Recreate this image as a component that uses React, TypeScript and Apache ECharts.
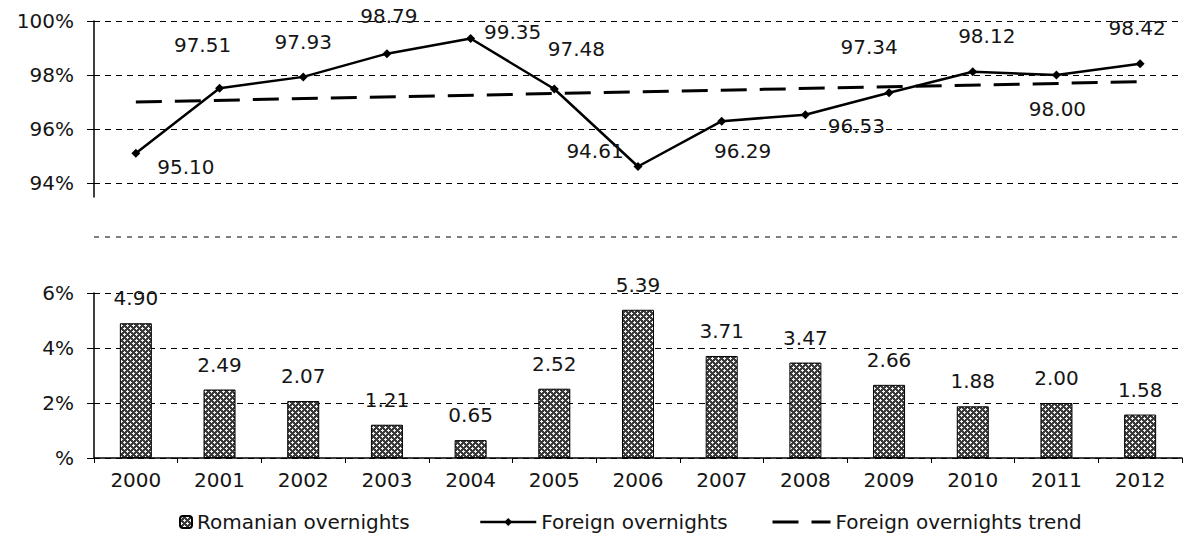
import React, { useEffect, useRef } from "react";
import * as echarts from "echarts";

// Overnight stays in tourist accommodation, share by origin of guests
const years = ["2000", "2001", "2002", "2003", "2004", "2005", "2006", "2007", "2008", "2009", "2010", "2011", "2012"];
const foreignOvernights = [95.1, 97.51, 97.93, 98.79, 99.35, 97.48, 94.61, 96.29, 96.53, 97.34, 98.12, 98.0, 98.42];
const romanianOvernights = [4.9, 2.49, 2.07, 1.21, 0.65, 2.52, 5.39, 3.71, 3.47, 2.66, 1.88, 2.0, 1.58];
// Linear trend of the foreign share, at the first and the last year
const foreignTrendEnds = [97.0, 97.75];
const upperTicks = [94, 96, 98, 100];
const lowerTicks = [0, 2, 4, 6];

// Where each value label of the line sits, relative to its point
const lineLabelOffsets = [
  [50, 14], [-17, -43], [0, -35], [2, -38], [42, -7], [22, -40], [-43, -15],
  [21, 30], [51, 11], [-20, -46], [14, -36], [1, 34], [-3, -36],
];

const FONT = "DejaVu Sans";
const TEXT = "#151515";

// Cross-hatched fill: light plus signs on a dark ground, set on a diagonal
function makeHatch(): HTMLCanvasElement {
  const c = document.createElement("canvas");
  c.width = 6;
  c.height = 6;
  const ctx = c.getContext("2d")!;
  ctx.fillStyle = "#3a3a3a";
  ctx.fillRect(0, 0, 6, 6);
  ctx.fillStyle = "#f2f2f2";
  const plus = (cx: number, cy: number) => {
    ctx.fillRect(cx, cy, 1, 1);
    ctx.fillRect(cx - 1, cy, 1, 1);
    ctx.fillRect(cx + 1, cy, 1, 1);
    ctx.fillRect(cx, cy - 1, 1, 1);
    ctx.fillRect(cx, cy + 1, 1, 1);
  };
  plus(1, 1);
  plus(4, 4);
  return c;
}

export default function App() {
  const ref = useRef<HTMLDivElement>(null);

  useEffect(() => {
    if (!ref.current) return;
    const chart = echarts.init(ref.current, null, { renderer: "svg" });
    const hatch = { image: makeHatch(), repeat: "repeat" } as any;

    const gridLine = { show: true, lineStyle: { color: "#000", type: [6, 5], width: 1 } };
    const axisText = { fontFamily: FONT, fontSize: 20, color: TEXT };

    const option: any = {
      animation: false,
      backgroundColor: "#fff",
      textStyle: { fontFamily: FONT },
      grid: [
        { left: 94, right: 15, top: 21, height: 176 },
        { left: 94, right: 15, top: 293, height: 165 },
      ],
      xAxis: [
        {
          type: "category",
          gridIndex: 0,
          data: years,
          boundaryGap: true,
          axisLine: { show: false },
          axisTick: { show: false },
          axisLabel: { show: false },
          splitLine: { show: false },
        },
        {
          type: "category",
          gridIndex: 1,
          data: years,
          boundaryGap: true,
          axisLine: { show: true, lineStyle: { color: "#000", width: 1.5 } },
          axisTick: { show: true, length: 5, lineStyle: { color: "#000" } },
          axisLabel: { ...axisText, margin: 12 },
          splitLine: { show: false },
        },
      ],
      yAxis: [
        {
          type: "value",
          gridIndex: 0,
          min: 93.48,
          max: 100,
          axisLine: { show: true, lineStyle: { color: "#000", width: 1.5 } },
          axisTick: { show: true, length: 7, customValues: upperTicks, lineStyle: { color: "#000" } },
          axisLabel: { ...axisText, margin: 20, customValues: upperTicks, formatter: (v: number) => `${v}%` },
          splitLine: gridLine,
        },
        {
          type: "value",
          gridIndex: 1,
          min: 0,
          max: 6,
          interval: 2,
          axisLine: { show: true, lineStyle: { color: "#000", width: 1.5 } },
          axisTick: { show: true, length: 7, lineStyle: { color: "#000" } },
          axisLabel: { ...axisText, margin: 20, customValues: lowerTicks, formatter: (v: number) => (v === 0 ? "%" : `${v}%`) },
          splitLine: gridLine,
        },
      ],
      legend: [
        {
          data: ["Romanian overnights"],
          left: 174,
          top: 507,
          itemWidth: 12,
          itemHeight: 12,
          textStyle: { ...axisText },
        },
        {
          data: ["Foreign overnights"],
          left: 474,
          top: 507,
          itemWidth: 56,
          itemHeight: 10,
          lineStyle: { width: 2.5 },
          textStyle: { ...axisText },
        },
        {
          data: ["Foreign overnights trend"],
          left: 766,
          top: 507,
          itemWidth: 58,
          itemHeight: 10,
          itemStyle: { opacity: 0 },
          lineStyle: { width: 3 },
          textStyle: { ...axisText },
        },
      ],
      graphic: [
        {
          type: "line",
          shape: { x1: 94, y1: 237, x2: 1182, y2: 237 },
          style: { stroke: "#000", lineWidth: 1, lineDash: [5, 6] },
          silent: true,
        },
      ],
      series: [
        {
          name: "Romanian overnights",
          type: "bar",
          xAxisIndex: 1,
          yAxisIndex: 1,
          data: romanianOvernights,
          barWidth: 32,
          itemStyle: { color: hatch, borderColor: "#000", borderWidth: 1 },
          label: {
            show: true,
            position: "top",
            distance: 15,
            fontFamily: FONT,
            fontSize: 20,
            color: TEXT,
            formatter: (p: any) => Number(p.value).toFixed(2),
          },
        },
        {
          name: "Foreign overnights",
          type: "line",
          xAxisIndex: 0,
          yAxisIndex: 0,
          data: foreignOvernights.map((v, i) => ({
            value: v,
            label: { offset: lineLabelOffsets[i] },
          })),
          symbol: "diamond",
          symbolSize: 9,
          z: 4,
          itemStyle: { color: "#000" },
          lineStyle: { color: "#000", width: 2.5 },
          label: {
            show: true,
            position: "inside",
            fontFamily: FONT,
            fontSize: 20,
            color: TEXT,
            formatter: (p: any) => Number(p.value).toFixed(2),
          },
        },
        {
          name: "Foreign overnights trend",
          type: "line",
          xAxisIndex: 0,
          yAxisIndex: 0,
          data: [
            [0, foreignTrendEnds[0]],
            [years.length - 1, foreignTrendEnds[1]],
          ],
          symbol: "none",
          z: 3,
          itemStyle: { color: "#000" },
          lineStyle: { color: "#000", width: 3, type: [26, 13] },
        },
      ],
    };

    chart.setOption(option);
    return () => chart.dispose();
  }, []);

  return (
    <div
      ref={ref}
      style={{ position: "absolute", left: 0, top: 0, width: 1197, height: 537, background: "#fff" }}
    />
  );
}
